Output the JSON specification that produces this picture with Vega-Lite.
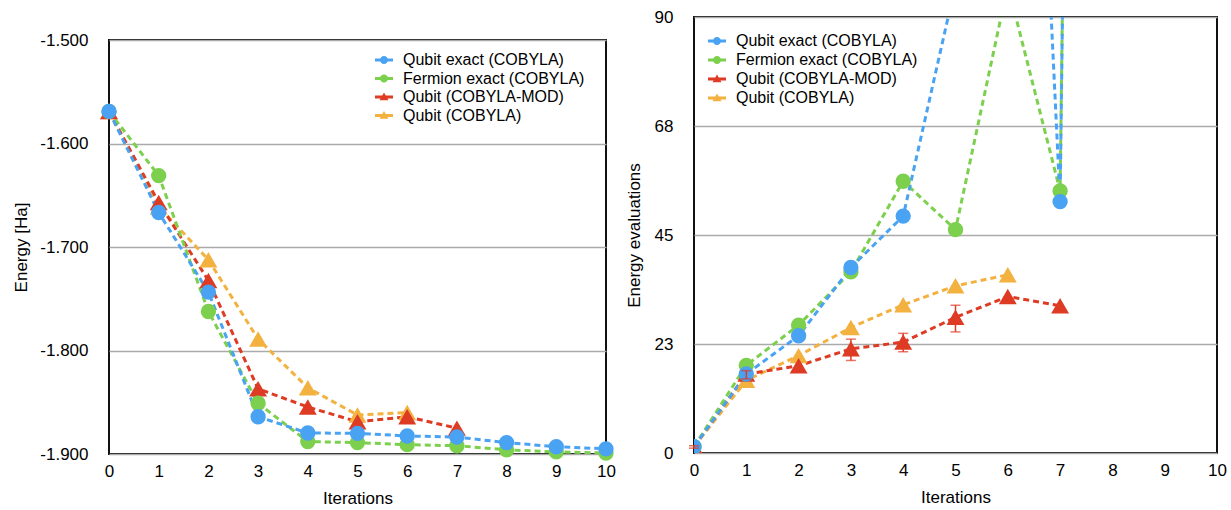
{
  "$schema": "https://vega.github.io/schema/vega-lite/v6.json",
  "background": "white",
  "padding": {"left": 11, "top": 7, "right": 4, "bottom": 0},
  "spacing": 7,
  "config": {
    "font": "Liberation Sans",
    "view": {"stroke": "#111111", "strokeWidth": 2},
    "axis": {
      "labelFont": "Liberation Sans", "labelFontSize": 17, "labelColor": "#000000", "labelFlush": false,
      "titleFont": "Liberation Sans", "titleFontSize": 17, "titleFontWeight": "normal", "titleColor": "#000000",
      "domain": false, "ticks": false, "gridColor": "#AAAAAA", "gridWidth": 1.3
    },
    "legend": {
      "title": null, "padding": 0, "labelFont": "Liberation Sans", "labelFontSize": 16, "labelColor": "#000000",
      "symbolSize": 324, "labelOffset": 10, "labelLimit": 400
    }
  },
  "datasets": {
    "energy": [
      {"series": "Qubit (COBYLA)", "it": 0, "e": -1.569},
      {"series": "Qubit (COBYLA)", "it": 1, "e": -1.661},
      {"series": "Qubit (COBYLA)", "it": 2, "e": -1.7124},
      {"series": "Qubit (COBYLA)", "it": 3, "e": -1.789},
      {"series": "Qubit (COBYLA)", "it": 4, "e": -1.836},
      {"series": "Qubit (COBYLA)", "it": 5, "e": -1.8623},
      {"series": "Qubit (COBYLA)", "it": 6, "e": -1.860},
      {"series": "Qubit (COBYLA-MOD)", "it": 0, "e": -1.569},
      {"series": "Qubit (COBYLA-MOD)", "it": 1, "e": -1.657},
      {"series": "Qubit (COBYLA-MOD)", "it": 2, "e": -1.7324},
      {"series": "Qubit (COBYLA-MOD)", "it": 3, "e": -1.837},
      {"series": "Qubit (COBYLA-MOD)", "it": 4, "e": -1.8546},
      {"series": "Qubit (COBYLA-MOD)", "it": 5, "e": -1.8688},
      {"series": "Qubit (COBYLA-MOD)", "it": 6, "e": -1.864},
      {"series": "Qubit (COBYLA-MOD)", "it": 7, "e": -1.875},
      {"series": "Fermion exact (COBYLA)", "it": 0, "e": -1.569},
      {"series": "Fermion exact (COBYLA)", "it": 1, "e": -1.631},
      {"series": "Fermion exact (COBYLA)", "it": 2, "e": -1.7623},
      {"series": "Fermion exact (COBYLA)", "it": 3, "e": -1.851},
      {"series": "Fermion exact (COBYLA)", "it": 4, "e": -1.888},
      {"series": "Fermion exact (COBYLA)", "it": 5, "e": -1.889},
      {"series": "Fermion exact (COBYLA)", "it": 6, "e": -1.891},
      {"series": "Fermion exact (COBYLA)", "it": 7, "e": -1.892},
      {"series": "Fermion exact (COBYLA)", "it": 8, "e": -1.896},
      {"series": "Fermion exact (COBYLA)", "it": 9, "e": -1.898},
      {"series": "Fermion exact (COBYLA)", "it": 10, "e": -1.899},
      {"series": "Qubit exact (COBYLA)", "it": 0, "e": -1.569},
      {"series": "Qubit exact (COBYLA)", "it": 1, "e": -1.6667},
      {"series": "Qubit exact (COBYLA)", "it": 2, "e": -1.7436},
      {"series": "Qubit exact (COBYLA)", "it": 3, "e": -1.864},
      {"series": "Qubit exact (COBYLA)", "it": 4, "e": -1.8797},
      {"series": "Qubit exact (COBYLA)", "it": 5, "e": -1.880},
      {"series": "Qubit exact (COBYLA)", "it": 6, "e": -1.8826},
      {"series": "Qubit exact (COBYLA)", "it": 7, "e": -1.8836},
      {"series": "Qubit exact (COBYLA)", "it": 8, "e": -1.889},
      {"series": "Qubit exact (COBYLA)", "it": 9, "e": -1.893},
      {"series": "Qubit exact (COBYLA)", "it": 10, "e": -1.895}
    ],
    "evals": [
      {"series": "Qubit (COBYLA)", "it": 0, "n": 1.3},
      {"series": "Qubit (COBYLA)", "it": 1, "n": 15.0},
      {"series": "Qubit (COBYLA)", "it": 2, "n": 20.1},
      {"series": "Qubit (COBYLA)", "it": 3, "n": 25.9},
      {"series": "Qubit (COBYLA)", "it": 4, "n": 30.6},
      {"series": "Qubit (COBYLA)", "it": 5, "n": 34.5},
      {"series": "Qubit (COBYLA)", "it": 6, "n": 36.8},
      {"series": "Qubit (COBYLA-MOD)", "it": 0, "n": 1.3},
      {"series": "Qubit (COBYLA-MOD)", "it": 1, "n": 16.3},
      {"series": "Qubit (COBYLA-MOD)", "it": 2, "n": 18.0},
      {"series": "Qubit (COBYLA-MOD)", "it": 3, "n": 21.5},
      {"series": "Qubit (COBYLA-MOD)", "it": 4, "n": 22.9},
      {"series": "Qubit (COBYLA-MOD)", "it": 5, "n": 28.0},
      {"series": "Qubit (COBYLA-MOD)", "it": 6, "n": 32.3},
      {"series": "Qubit (COBYLA-MOD)", "it": 7, "n": 30.4},
      {"series": "Fermion exact (COBYLA)", "it": 0, "n": 1.3},
      {"series": "Fermion exact (COBYLA)", "it": 1, "n": 18.1},
      {"series": "Fermion exact (COBYLA)", "it": 2, "n": 26.4},
      {"series": "Fermion exact (COBYLA)", "it": 3, "n": 37.4},
      {"series": "Fermion exact (COBYLA)", "it": 4, "n": 56.1},
      {"series": "Fermion exact (COBYLA)", "it": 5, "n": 46.1},
      {"series": "Fermion exact (COBYLA)", "it": 6, "n": 96.5},
      {"series": "Fermion exact (COBYLA)", "it": 7, "n": 54.1},
      {"series": "Fermion exact (COBYLA)", "it": 8, "n": 900},
      {"series": "Qubit exact (COBYLA)", "it": 0, "n": 1.3},
      {"series": "Qubit exact (COBYLA)", "it": 1, "n": 16.3},
      {"series": "Qubit exact (COBYLA)", "it": 2, "n": 24.2},
      {"series": "Qubit exact (COBYLA)", "it": 3, "n": 38.3},
      {"series": "Qubit exact (COBYLA)", "it": 4, "n": 48.9},
      {"series": "Qubit exact (COBYLA)", "it": 5, "n": 96.7},
      {"series": "Qubit exact (COBYLA)", "it": 6, "n": 276},
      {"series": "Qubit exact (COBYLA)", "it": 7, "n": 51.9},
      {"series": "Qubit exact (COBYLA)", "it": 8, "n": 900}
    ],
    "err": [
      {"it": 0, "lo": 1.0, "hi": 1.5},
      {"it": 1, "lo": 15.3, "hi": 17.0},
      {"it": 3, "lo": 19.1, "hi": 23.5},
      {"it": 4, "lo": 20.9, "hi": 24.7},
      {"it": 5, "lo": 25.0, "hi": 30.5}
    ]
  },
  "resolve": {
    "scale": {"color": "independent"},
    "legend": {"color": "independent"}
  },
  "hconcat": [
    {
      "spacing": 4,
      "resolve": {"scale": {"color": "independent"}, "legend": {"color": "independent"}},
      "vconcat": [
        {
          "width": 497,
          "height": 9,
          "view": {"stroke": null},
          "data": {"values": [{"it": 0}]},
          "mark": {"type": "point", "opacity": 0},
          "encoding": {}
        },
        {
          "width": 497,
          "height": 414,
          "data": {"name": "energy"},
          "encoding": {
            "x": {"field": "it", "type": "quantitative",
              "scale": {"domain": [0, 10], "nice": false, "zero": false},
              "axis": {"title": "Iterations", "values": [0,1,2,3,4,5,6,7,8,9,10], "grid": false, "labelPadding": 9, "titlePadding": 11}},
            "y": {"field": "e", "type": "quantitative",
              "scale": {"domain": [-1.9, -1.5], "nice": false, "zero": false},
              "axis": {"title": "Energy [Ha]", "values": [-1.9, -1.8, -1.7, -1.6, -1.5],
                "labelExpr": "replace(format(datum.value, '.3f'), '\u2212', '-')", "labelPadding": 21, "titlePadding": 9}},
            "color": {"field": "series", "type": "nominal",
              "scale": {"domain": ["Qubit exact (COBYLA)", "Fermion exact (COBYLA)", "Qubit (COBYLA-MOD)", "Qubit (COBYLA)"],
                "range": ["#4AA2F3", "#7CD04E", "#DE3B25", "#F3B13F"]},
              "legend": {"orient": "none", "legendX": 266, "legendY": 11, "rowPadding": 1.5,
                "encode": {"symbols": {"update": {
                  "shape": {"signal": "indexof(datum.value, 'Qubit (') === 0 ? 'M-1,-0.17L1,-0.17L1,0.17L-1,0.17Z M0,-0.5L0.5,0.35L-0.5,0.35Z' : 'M-1,-0.17L1,-0.17L1,0.17L-1,0.17Z M0.45,0A0.45,0.45 0 1,1 -0.45,0A0.45,0.45 0 1,1 0.45,0Z'"},
                  "strokeWidth": {"value": 0},
                  "strokeDash": {"value": []},
                  "size": {"value": 324},
                  "opacity": {"value": 1}
                }}}}}
          },
          "layer": [
            {"mark": {"type": "line", "strokeWidth": 3, "strokeDash": [6, 4]}},
            {"transform": [{"filter": "indexof(datum.series, 'Qubit (') === 0"}],
              "mark": {"type": "point", "shape": "triangle-up", "size": 320, "filled": true, "opacity": 1}},
            {"transform": [{"filter": "indexof(datum.series, 'exact') >= 0"}],
              "mark": {"type": "point", "shape": "circle", "size": 235, "filled": true, "opacity": 1}}
          ]
        }
      ]
    },
    {
      "width": 523,
      "height": 436,
      "data": {"name": "evals"},
      "encoding": {
        "x": {"field": "it", "type": "quantitative",
          "scale": {"domain": [0, 10], "nice": false, "zero": false},
          "axis": {"title": "Iterations", "values": [0,1,2,3,4,5,6,7,8,9,10], "grid": false, "labelPadding": 9, "titlePadding": 11}},
        "y": {"field": "n", "type": "quantitative",
          "scale": {"domain": [0, 90], "nice": false, "zero": false},
          "axis": {"title": "Energy evaluations", "values": [0, 22.5, 45, 67.5, 90], "format": ".0f", "labelPadding": 21, "titlePadding": 11}},
        "color": {"field": "series", "type": "nominal",
          "scale": {"domain": ["Qubit exact (COBYLA)", "Fermion exact (COBYLA)", "Qubit (COBYLA-MOD)", "Qubit (COBYLA)"],
            "range": ["#4AA2F3", "#7CD04E", "#DE3B25", "#F3B13F"]},
          "legend": {"orient": "none", "legendX": 14, "legendY": 15, "rowPadding": 2,
            "encode": {"symbols": {"update": {
              "shape": {"signal": "indexof(datum.value, 'Qubit (') === 0 ? 'M-1,-0.17L1,-0.17L1,0.17L-1,0.17Z M0,-0.5L0.5,0.35L-0.5,0.35Z' : 'M-1,-0.17L1,-0.17L1,0.17L-1,0.17Z M0.45,0A0.45,0.45 0 1,1 -0.45,0A0.45,0.45 0 1,1 0.45,0Z'"},
              "strokeWidth": {"value": 0},
              "strokeDash": {"value": []},
              "size": {"value": 324},
              "opacity": {"value": 1}
            }}}}}
      },
      "layer": [
        {"mark": {"type": "line", "strokeWidth": 3, "strokeDash": [6, 4], "clip": true}},
        {"transform": [{"filter": "indexof(datum.series, 'Qubit (') === 0"}],
          "mark": {"type": "point", "shape": "triangle-up", "size": 320, "filled": true, "opacity": 1, "clip": true}},
        {"transform": [{"filter": "indexof(datum.series, 'exact') >= 0"}],
          "mark": {"type": "point", "shape": "circle", "size": 235, "filled": true, "opacity": 1, "clip": true}},
        {"data": {"name": "err"},
          "mark": {"type": "errorbar", "ticks": {"size": 10}, "thickness": 1.5},
          "encoding": {
            "y": {"field": "lo", "type": "quantitative", "title": "Energy evaluations"},
            "y2": {"field": "hi"},
            "color": {"value": "#DE3B25"}
          }}
      ]
    }
  ]
}
